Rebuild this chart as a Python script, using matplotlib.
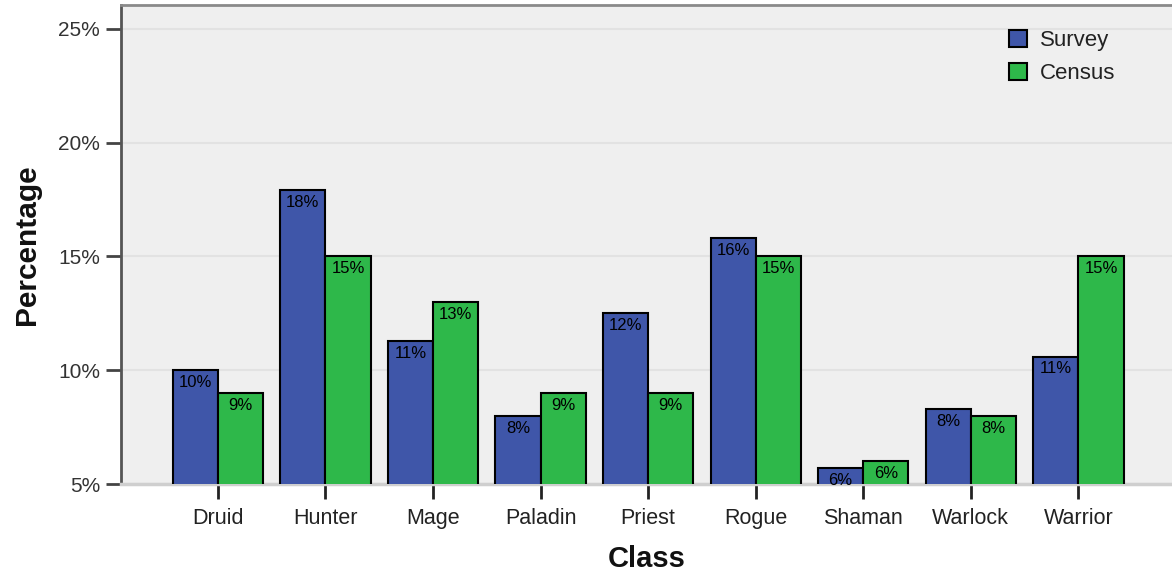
import matplotlib
matplotlib.use("Agg")
import matplotlib.pyplot as plt
import numpy as np
from matplotlib.patches import Patch
from matplotlib.ticker import FuncFormatter

categories = ["Druid", "Hunter", "Mage", "Paladin", "Priest", "Rogue", "Shaman", "Warlock", "Warrior"]
survey = [10.0, 17.9, 11.3, 8.0, 12.5, 15.8, 5.7, 8.3, 10.6]
census = [9.0, 15.0, 13.0, 9.0, 9.0, 15.0, 6.0, 8.0, 15.0]
yticks = [5, 10, 15, 20, 25]

plt.rcParams['font.family'] = ['Liberation Sans', 'DejaVu Sans']

fig = plt.figure(figsize=(11.72, 5.75), dpi=100)
fig.patch.set_facecolor('white')
ax = fig.add_axes([121/1172, 91/575, 1 - 121/1172, (484 - 5)/575])
ax.set_facecolor('#efefef')

x = np.arange(len(categories))
w = 0.42
blue = '#3f56a9'
green = '#2eb84a'
b1 = ax.bar(x - w/2, survey, w, bottom=0, color=blue, edgecolor='black', linewidth=1.5, zorder=3)
b2 = ax.bar(x + w/2, census, w, bottom=0, color=green, edgecolor='black', linewidth=1.5, zorder=3)

for bars, vals in ((b1, survey), (b2, census)):
    for rect, v in zip(bars, vals):
        ax.annotate(f"{v:.0f}%", (rect.get_x() + rect.get_width()/2, v),
                    xytext=(0, -3.5), textcoords='offset points',
                    ha='center', va='top', fontsize=12, color='black', zorder=4)

ax.set_ylim(5, 26.05)
ax.set_xlim(-0.9, 8.87)
ax.set_yticks(yticks)
ax.yaxis.set_major_formatter(FuncFormatter(lambda v, p: f"{v:.0f}%"))
ax.set_xticks(x)
ax.set_xticklabels(categories)

ax.grid(axis='y', color='#e2e2e2', linewidth=1.5, zorder=0)
ax.set_axisbelow(True)

ax.tick_params(axis='y', length=11, width=2, color='#444444', labelsize=15,
               labelcolor='#333333', pad=4)
ax.tick_params(axis='x', length=11, width=2, color='#222222', labelsize=15.5,
               labelcolor='#222222', pad=6)

ax.spines['right'].set_visible(False)
ax.spines['left'].set_color('#555555')
ax.spines['left'].set_linewidth(2)
ax.spines['top'].set_color('#8a8a8a')
ax.spines['top'].set_linewidth(2)
ax.spines['bottom'].set_color('#cfcfcf')
ax.spines['bottom'].set_linewidth(2.5)

ax.set_ylabel("Percentage", fontsize=21.5, fontweight='bold', color='#111111', labelpad=12)
ax.set_xlabel("Class", fontsize=21, fontweight='bold', color='#111111', labelpad=12)

handles = [Patch(facecolor=blue, edgecolor='black', linewidth=1.5, label='Survey'),
           Patch(facecolor=green, edgecolor='black', linewidth=1.5, label='Census')]
leg = ax.legend(handles=handles, loc='upper left', bbox_to_anchor=(0.826, 0.99),
                frameon=False, fontsize=16, handlelength=0.8, handleheight=0.8,
                handletextpad=0.6, labelspacing=0.55)
for t in leg.get_texts():
    t.set_color('#222222')

fig.savefig('out.png', dpi=100, facecolor='white')
